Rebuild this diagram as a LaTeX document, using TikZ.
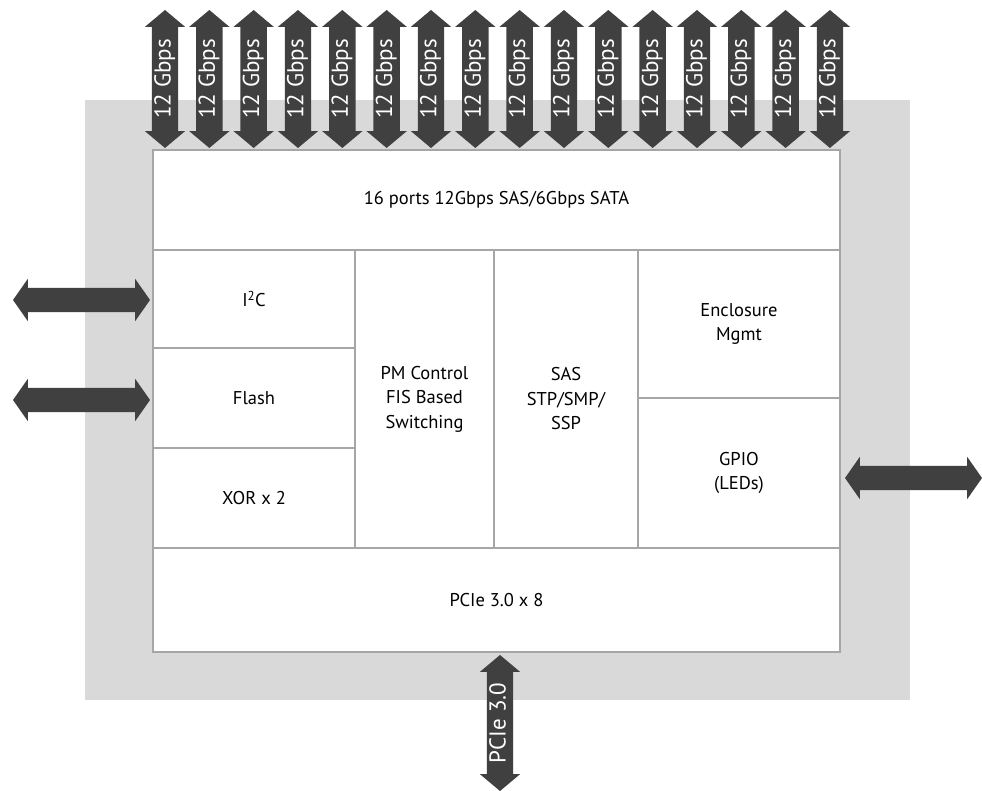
\documentclass[tikz,border=0pt]{standalone}
\usepackage{fontspec}
\setmainfont{PT Sans}
\usetikzlibrary{shapes.arrows}
\definecolor{bggray}{HTML}{D9D9D9}
\definecolor{bordergray}{HTML}{A6A6A6}
\definecolor{arrowdark}{HTML}{404040}
\begin{document}
\begin{tikzpicture}[x=1pt,y=-1pt,
  blk/.style={draw=bordergray, line width=2pt, fill=white, inner sep=0pt,
    font=\fontsize{18.5}{24.5}\selectfont, align=center},
  darr/.style={double arrow, fill=arrowdark, draw=none, inner sep=0pt,
    text=white, font=\fontsize{23}{26}\selectfont,
    double arrow head indent=0pt},
  vport/.style={darr, rotate=90, minimum height=138pt, text height=18.5pt, text depth=7.5pt,
    double arrow head extend=7pt, double arrow tip angle=100},
  hport/.style={darr, minimum height=137pt, text height=16pt, text depth=8pt, text width=0pt,
    double arrow head extend=9pt, double arrow tip angle=110}
]
\useasboundingbox (0,0) rectangle (982,791);
\fill[bggray] (85,100) rectangle (910,700);

% blocks
\node[blk, minimum width=687pt, minimum height=100pt] (top) at (496.5,200) {16 ports 12Gbps SAS/6Gbps SATA};
\node[blk, minimum width=202pt, minimum height=98pt] (i2c) at (254,299) {I\textsuperscript{2}C};
\node[blk, minimum width=202pt, minimum height=100pt] (flash) at (254,398) {Flash};
\node[blk, minimum width=202pt, minimum height=100pt] (xor) at (254,498) {XOR x 2};
\node[blk, minimum width=139pt, minimum height=298pt] (pm) at (424.5,399) {PM Control\\FIS Based\\Switching};
\node[blk, minimum width=144pt, minimum height=298pt] (sas) at (566,399) {SAS\\STP/SMP/\\SSP};
\node[blk, minimum width=202pt, minimum height=148pt] (enc) at (739,324) {Enclosure\\Mgmt};
\node[blk, minimum width=202pt, minimum height=150pt] (gpio) at (739,473) {GPIO\\(LEDs)};
\node[blk, minimum width=687pt, minimum height=104pt] (pcie) at (496.5,600) {PCIe 3.0 x 8};

% top port arrows
\foreach \i in {0,...,15}{
  \node[vport] (p\i) at ({165+\i*44.33},79) {12 Gbps};
}
% side arrows
\node[hport] (la1) at (81.5,300) {};
\node[hport] (la2) at (81.5,400) {};
\node[hport] (ra) at (913.5,478) {};
% bottom arrow
\node[vport, minimum height=136pt] (ba) at (500,723) {PCIe 3.0};
\end{tikzpicture}
\end{document}
